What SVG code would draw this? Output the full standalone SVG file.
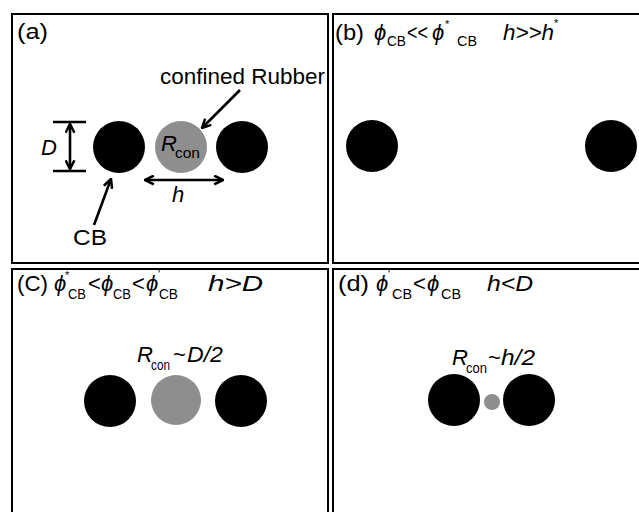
<svg xmlns="http://www.w3.org/2000/svg" width="639" height="512" viewBox="0 0 639 512">
  <style>
    .frame { fill: none; stroke: #000; stroke-width: 2; }
    .cb { fill: #000; }
    .rub { fill: #8e8e8e; }
    .t { font-family: "Liberation Sans", Arial, "DejaVu Sans", sans-serif; font-size: 22px; fill: #000; }
    .i { font-style: italic; }
    .sub { font-family: "Liberation Sans", Arial, "DejaVu Sans", sans-serif; font-size: 15px; fill: #000; }
    .sup { font-family: "Liberation Sans", Arial, "DejaVu Sans", sans-serif; font-size: 11px; fill: #000; }
    .ln { fill: none; stroke: #000; stroke-width: 2.6; }
  </style>
  <defs>
    <marker id="head" viewBox="0 0 10 10" refX="9" refY="5" markerUnits="userSpaceOnUse" markerWidth="11" markerHeight="11" orient="auto-start-reverse">
      <path d="M1,1 L9,5 L1,9" fill="none" stroke="#000" stroke-width="2.3"/>
    </marker>
  </defs>
  <rect width="639" height="512" fill="#fff"/>

  <!-- panel (a): definitions -->
  <g id="panel-a">
    <rect class="frame" x="12" y="14" width="316" height="249"/>
    <text class="t" x="17" y="39" textLength="31" lengthAdjust="spacingAndGlyphs">(a)</text>
    <text class="t" x="160" y="84" textLength="165" lengthAdjust="spacingAndGlyphs">confined Rubber</text>
    <circle class="cb" cx="119" cy="147" r="26"/>
    <circle class="rub" cx="181" cy="147" r="26"/>
    <circle class="cb" cx="242" cy="147" r="26"/>
    <text class="t i" x="161" y="151">R</text>
    <text class="sub" x="175" y="158" textLength="25" lengthAdjust="spacingAndGlyphs">con</text>
    <text class="t i" x="41" y="155">D</text>
    <text class="t i" x="172" y="202">h</text>
    <text class="t" x="73" y="245" textLength="34" lengthAdjust="spacingAndGlyphs">CB</text>
  </g>

  <!-- panel (b): dilute filler -->
  <g id="panel-b">
    <rect class="frame" x="333" y="14" width="312" height="249"/>
    <text class="t" x="335" y="40" textLength="29" lengthAdjust="spacingAndGlyphs">(b)</text>
    <text class="t i" x="374" y="40">ϕ</text>
    <text class="sub" x="387" y="46" textLength="19" lengthAdjust="spacingAndGlyphs">CB</text>
    <text class="t" x="407" y="40" textLength="21" lengthAdjust="spacingAndGlyphs">&lt;&lt;</text>
    <text class="t i" x="432" y="40">ϕ</text>
    <text class="sup" x="445" y="28">*</text>
    <text class="sub" x="457" y="46" textLength="20" lengthAdjust="spacingAndGlyphs">CB</text>
    <text class="t i" x="503" y="40" textLength="51" lengthAdjust="spacingAndGlyphs">h&gt;&gt;h</text>
    <text class="sup" x="554" y="27">*</text>
    <circle class="cb" cx="372" cy="146" r="26"/>
    <circle class="cb" cx="611" cy="146" r="26"/>
  </g>

  <!-- panel (c): intermediate filler -->
  <g id="panel-c">
    <rect class="frame" x="12" y="269" width="316" height="250"/>
    <text class="t" x="17" y="291" textLength="31" lengthAdjust="spacingAndGlyphs">(C)</text>
    <text class="t i" x="54" y="291">ϕ</text>
    <text class="sup" x="65" y="279">*</text>
    <text class="sub" x="68" y="299" textLength="18" lengthAdjust="spacingAndGlyphs">CB</text>
    <text class="t" x="88" y="291">&lt;</text>
    <text class="t i" x="101" y="291">ϕ</text>
    <text class="sub" x="113" y="299" textLength="18" lengthAdjust="spacingAndGlyphs">CB</text>
    <text class="t" x="132" y="291">&lt;</text>
    <text class="t i" x="146" y="291">ϕ</text>
    <text class="sup" x="158" y="278">'</text>
    <text class="sub" x="159" y="299" textLength="19" lengthAdjust="spacingAndGlyphs">CB</text>
    <text class="t i" x="208" y="291" textLength="55" lengthAdjust="spacingAndGlyphs">h&gt;D</text>
    <text class="t i" x="137" y="362">R</text>
    <text class="sub" x="151" y="370" textLength="19" lengthAdjust="spacingAndGlyphs">con</text>
    <text class="t" x="173" y="362">~</text>
    <text class="t i" x="187" y="362" textLength="36" lengthAdjust="spacingAndGlyphs">D/2</text>
    <circle class="cb" cx="110" cy="401" r="26"/>
    <circle class="rub" cx="176" cy="400" r="25"/>
    <circle class="cb" cx="241" cy="401" r="26"/>
  </g>

  <!-- panel (d): dense filler -->
  <g id="panel-d">
    <rect class="frame" x="333" y="269" width="312" height="250"/>
    <text class="t" x="338" y="291" textLength="31" lengthAdjust="spacingAndGlyphs">(d)</text>
    <text class="t i" x="376" y="291">ϕ</text>
    <text class="sup" x="388" y="278">'</text>
    <text class="sub" x="392" y="299" textLength="20" lengthAdjust="spacingAndGlyphs">CB</text>
    <text class="t" x="413" y="291">&lt;</text>
    <text class="t i" x="427" y="291">ϕ</text>
    <text class="sub" x="441" y="299" textLength="20" lengthAdjust="spacingAndGlyphs">CB</text>
    <text class="t i" x="487" y="291" textLength="46" lengthAdjust="spacingAndGlyphs">h&lt;D</text>
    <text class="t i" x="452" y="365">R</text>
    <text class="sub" x="466" y="373" textLength="21" lengthAdjust="spacingAndGlyphs">con</text>
    <text class="t" x="488" y="365">~</text>
    <text class="t i" x="501" y="365" textLength="34" lengthAdjust="spacingAndGlyphs">h/2</text>
    <circle class="cb" cx="454" cy="400" r="26"/>
    <circle class="rub" cx="492" cy="402" r="8"/>
    <circle class="cb" cx="529" cy="400" r="26"/>
  </g>

  <!-- dimension lines and pointer arrows -->
  <g id="connectors">
    <line class="ln" x1="53" y1="122" x2="86" y2="122"/>
    <line class="ln" x1="53" y1="171" x2="86" y2="171"/>
    <line class="ln" x1="70" y1="124" x2="70" y2="169" marker-start="url(#head)" marker-end="url(#head)"/>
    <line class="ln" x1="145" y1="180" x2="223" y2="180" marker-start="url(#head)" marker-end="url(#head)"/>
    <line class="ln" x1="240" y1="90" x2="202" y2="128" marker-end="url(#head)"/>
    <line class="ln" x1="94" y1="225" x2="111" y2="179" marker-end="url(#head)"/>
  </g>
</svg>
